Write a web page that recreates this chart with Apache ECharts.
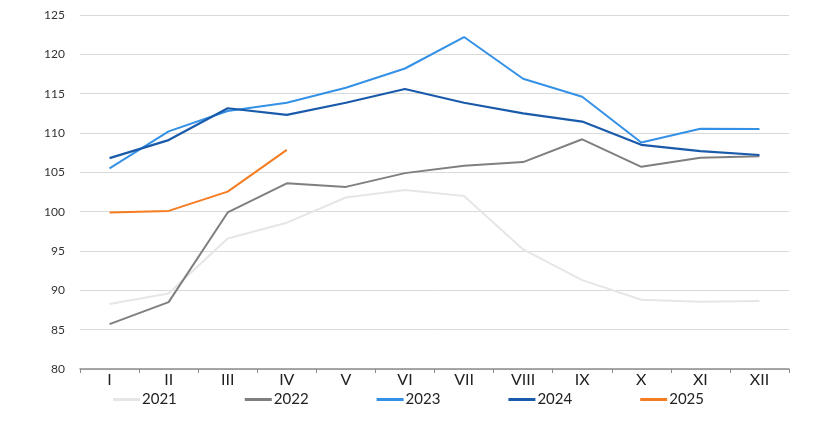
<!DOCTYPE html>
<html><head><meta charset="utf-8">
<script src="https://cdn.jsdelivr.net/npm/echarts@6/dist/echarts.min.js"></script>
<style>html,body{margin:0;padding:0;background:#fff}#c{width:820px;height:424px}</style>
</head><body><div id="c"></div>
<script>
const categories = ['I','II','III','IV','V','VI','VII','VIII','IX','X','XI','XII'];
const yTicks = [80, 85, 90, 95, 100, 105, 110, 115, 120, 125];
const s2021 = [88.25, 89.6, 96.6, 98.6, 101.8, 102.75, 102.0, 95.2, 91.3, 88.8, 88.55, 88.65];
const s2022 = [85.7, 88.5, 99.9, 103.6, 103.15, 104.9, 105.85, 106.3, 109.2, 105.7, 106.85, 107.05];
const s2023 = [105.5, 110.2, 112.8, 113.85, 115.75, 118.2, 122.2, 116.9, 114.6, 108.8, 110.55, 110.5];
const s2024 = [106.8, 109.1, 113.15, 112.3, 113.85, 115.6, 113.85, 112.5, 111.45, 108.5, 107.7, 107.2];
const s2025 = [99.9, 100.1, 102.55, 107.85];
const seriesNames = ['2021','2022','2023','2024','2025'];
const colors = ['#e6e6e6','#7f7f7f','#3491e6','#1a5aaa','#f57c20'];
const FONT = 'Lato, "Open Sans", sans-serif';
const chart = echarts.init(document.getElementById('c'));
const data = [s2021, s2022, s2023, s2024, s2025];
chart.setOption({
  animation: false,
  color: colors,
  textStyle: {fontFamily: FONT},
  grid: {left: 80, right: 31, top: 15, bottom: 55},
  legend: {
    left: 108, top: 387, itemWidth: 27, itemHeight: 3, itemGap: 68,
    icon: 'rect',
    textStyle: {fontSize: 15, color: '#222', fontFamily: FONT, padding: [0, 0, 0, -3]},
    data: seriesNames
  },
  xAxis: {
    type: 'category', data: categories, boundaryGap: true,
    axisLine: {lineStyle: {color: '#8c8c8c', width: 1.5}},
    axisTick: {show: true, length: 4, lineStyle: {color: '#8c8c8c'}},
    axisLabel: {fontSize: 16, color: '#222', margin: 3, fontFamily: FONT}
  },
  yAxis: {
    type: 'value', min: yTicks[0], max: yTicks[yTicks.length-1], interval: 5,
    axisLine: {show: false}, axisTick: {show: false},
    axisLabel: {fontSize: 12, color: '#333', margin: 15, fontFamily: FONT},
    splitLine: {lineStyle: {color: '#d9d9d9', width: 1}}
  },
  series: seriesNames.map((n, i) => ({
    name: n, type: 'line', data: data[i], symbol: 'none',
    lineStyle: {width: i === 3 ? 2.2 : 2, color: colors[i]},
    z: i === 0 ? 1 : 2 + i
  }))
});
</script></body></html>
